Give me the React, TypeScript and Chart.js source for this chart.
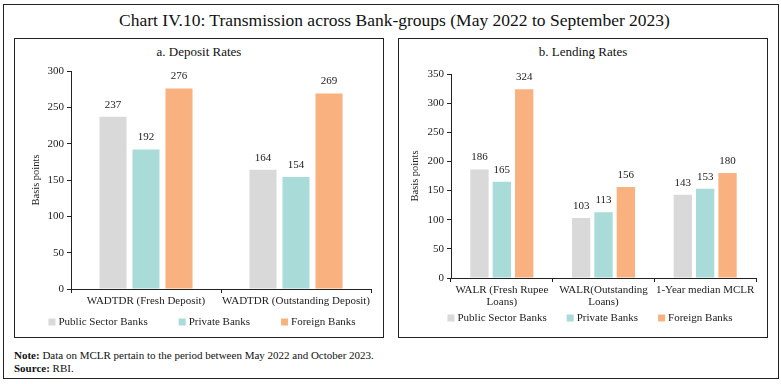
import React, { useEffect, useRef } from 'react';
import { Chart, registerables } from 'chart.js';

Chart.register(...registerables);

const FONT = "'Liberation Serif', 'Times New Roman', serif";

const seriesNames = ['Public Sector Banks', 'Private Banks', 'Foreign Banks'];
const seriesColors = ['#d9d9d9', '#a9dcd9', '#f9b27f'];

const depositCategories = ['WADTDR (Fresh Deposit)', 'WADTDR (Outstanding Deposit)'];
const depositPublic = [237, 164];
const depositPrivate = [192, 154];
const depositForeign = [276, 269];
const depositTicks = [0, 50, 100, 150, 200, 250, 300];

const lendingCategories = [['WALR (Fresh Rupee', 'Loans)'], ['WALR(Outstanding', 'Loans)'], '1-Year median MCLR'];
const lendingPublic = [186, 103, 143];
const lendingPrivate = [165, 113, 153];
const lendingForeign = [324, 156, 180];
const lendingTicks = [0, 50, 100, 150, 200, 250, 300, 350];

const barLabelPlugin = {
  id: 'barLabels',
  afterDatasetsDraw(chart: any) {
    const ctx = chart.ctx;
    ctx.save();
    ctx.font = `11px ${FONT}`;
    ctx.fillStyle = '#222';
    ctx.textAlign = 'center';
    ctx.textBaseline = 'middle';
    chart.data.datasets.forEach((ds: any, i: number) => {
      const meta = chart.getDatasetMeta(i);
      meta.data.forEach((bar: any, j: number) => {
        ctx.fillText(String(ds.data[j]), bar.x, bar.y - 12);
      });
    });
    ctx.restore();
  },
};

const bottomLegendPlugin = {
  id: 'bottomLegend',
  afterDraw(chart: any, _args: any, opts: any) {
    const ctx = chart.ctx;
    ctx.save();
    ctx.font = `11px ${FONT}`;
    ctx.textBaseline = 'middle';
    ctx.textAlign = 'left';
    const box = 7;
    const items = chart.data.datasets.map((ds: any) => ({
      text: ds.label,
      color: ds.backgroundColor,
      w: box + 3 + ctx.measureText(ds.label).width,
    }));
    const gap = opts.gap ?? 30;
    const total = items.reduce((a: number, it: any) => a + it.w, 0) + gap * (items.length - 1);
    let x = chart.width / 2 - total / 2 + (opts.shift ?? 0);
    const y = chart.chartArea.bottom + (opts.offset ?? 33);
    items.forEach((it: any) => {
      ctx.fillStyle = it.color;
      ctx.fillRect(x, y - box / 2, box, box);
      ctx.fillStyle = '#222';
      ctx.fillText(it.text, x + box + 3, y);
      x += it.w + gap;
    });
    ctx.restore();
  },
};

type Cfg = {
  padTop: number;
  padRight: number;
  padBottom: number;
  xHeight: number;
  yWidth: number;
  titlePad: number;
  legendOffset: number;
  legendGap: number;
  legendShift: number;
};

function BarPanel(props: {
  left: number;
  subtitle: string;
  categories: any[];
  values: number[][];
  ticks: number[];
  cfg: Cfg;
}) {
  const ref = useRef<HTMLCanvasElement>(null);
  const { categories, values, ticks, cfg } = props;
  useEffect(() => {
    const axisColor = '#222';
    const chart = new Chart(ref.current as HTMLCanvasElement, {
      type: 'bar',
      data: {
        labels: categories,
        datasets: values.map((v, i) => ({
          label: seriesNames[i],
          data: v,
          backgroundColor: seriesColors[i],
          categoryPercentage: 0.66,
          barPercentage: 0.82,
        })),
      },
      options: {
        responsive: false,
        animation: false,
        devicePixelRatio: 1,
        layout: { padding: { top: cfg.padTop, right: cfg.padRight, bottom: cfg.padBottom, left: 0 } },
        plugins: {
          legend: { display: false },
          tooltip: { enabled: false },
          bottomLegend: { offset: cfg.legendOffset, gap: cfg.legendGap, shift: cfg.legendShift },
        } as any,
        scales: {
          x: {
            grid: { display: true, drawOnChartArea: false, drawTicks: true, tickLength: 4, color: axisColor, offset: true },
            border: { display: true, color: axisColor, width: 1 },
            ticks: {
              color: '#222',
              font: { family: FONT, size: 11, lineHeight: 1.1 },
              padding: 2,
              maxRotation: 0,
              autoSkip: false,
            },
            afterFit: (s: any) => {
              s.height = cfg.xHeight;
            },
          },
          y: {
            min: ticks[0],
            max: ticks[ticks.length - 1],
            afterBuildTicks: (s: any) => {
              s.ticks = ticks.map((t) => ({ value: t }));
            },
            grid: { display: true, drawOnChartArea: false, drawTicks: true, tickLength: 4, color: axisColor },
            border: { display: true, color: axisColor, width: 1 },
            ticks: { color: '#222', font: { family: FONT, size: 11 }, padding: 3 },
            title: {
              display: true,
              text: 'Basis points',
              color: '#222',
              font: { family: FONT, size: 10.5 },
              padding: { top: cfg.titlePad, bottom: 0 },
            },
            afterFit: (s: any) => {
              s.width = cfg.yWidth;
            },
          },
        },
      } as any,
      plugins: [barLabelPlugin, bottomLegendPlugin],
    });
    return () => chart.destroy();
  }, []);

  return (
    <div
      style={{
        position: 'absolute',
        left: props.left,
        top: 38,
        width: 370,
        height: 300,
        boxSizing: 'border-box',
        border: '1px solid #222',
      }}
    >
      <div
        style={{
          position: 'absolute',
          left: 0,
          right: 0,
          top: 5,
          textAlign: 'center',
          fontFamily: FONT,
          fontSize: 13,
          color: '#111',
        }}
      >
        {props.subtitle}
      </div>
      <canvas
        ref={ref}
        width={368}
        height={279}
        style={{ position: 'absolute', left: 0, top: 19, width: 368, height: 279, display: 'block' }}
      />
    </div>
  );
}

export default function App() {
  return (
    <div
      style={{
        position: 'absolute',
        left: 0,
        top: 0,
        width: 781,
        height: 384,
        background: '#fff',
        fontFamily: FONT,
        color: '#111',
      }}
    >
      <div
        style={{
          position: 'absolute',
          left: 3,
          top: 4,
          width: 776,
          height: 375,
          boxSizing: 'border-box',
          border: '1px solid #222',
        }}
      />
      <div
        style={{
          position: 'absolute',
          left: 4,
          width: 781,
          top: 10,
          textAlign: 'center',
          fontSize: 17.5,
          fontFamily: FONT,
        }}
      >
        Chart IV.10: Transmission across Bank-groups (May 2022 to September 2023)
      </div>
      <BarPanel
        left={14}
        subtitle="a. Deposit Rates"
        categories={depositCategories}
        values={[depositPublic, depositPrivate, depositForeign]}
        ticks={depositTicks}
        cfg={{
          padTop: 13,
          padRight: 12,
          padBottom: 28,
          xHeight: 20,
          yWidth: 56,
          titlePad: 15,
          legendOffset: 33,
          legendGap: 31,
          legendShift: 3,
        }}
      />
      <BarPanel
        left={398}
        subtitle="b. Lending Rates"
        categories={lendingCategories}
        values={[lendingPublic, lendingPrivate, lendingForeign]}
        ticks={lendingTicks}
        cfg={{
          padTop: 16,
          padRight: 11,
          padBottom: 29,
          xHeight: 30,
          yWidth: 52,
          titlePad: 10,
          legendOffset: 40,
          legendGap: 20,
          legendShift: 7,
        }}
      />
      <div style={{ position: 'absolute', left: 14, top: 349, fontSize: 11, lineHeight: '13px' }}>
        <b>Note:</b> Data on MCLR pertain to the period between May 2022 and October 2023.
      </div>
      <div style={{ position: 'absolute', left: 14, top: 362, fontSize: 11, lineHeight: '13px' }}>
        <b>Source:</b> RBI.
      </div>
    </div>
  );
}
